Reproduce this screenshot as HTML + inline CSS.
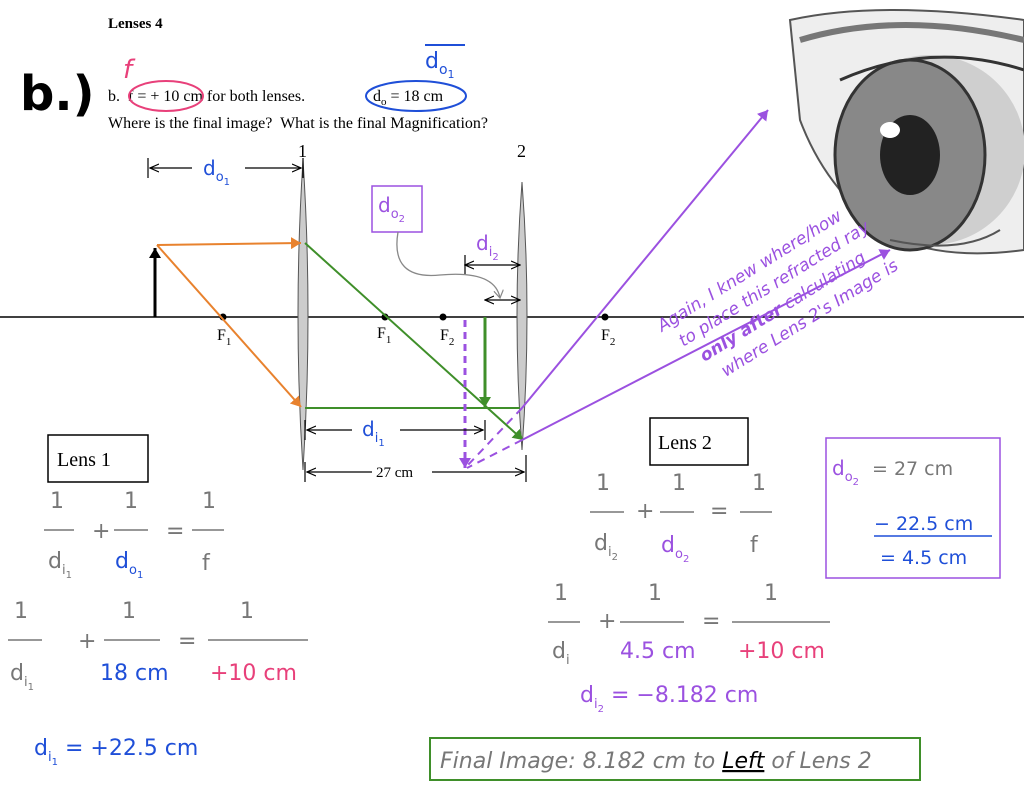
<!DOCTYPE html>
<html><head><meta charset="utf-8"><style>
html,body{margin:0;padding:0;background:#fff;}
svg{display:block}
.hw{font-family:"DejaVu Sans","Liberation Sans",sans-serif;}
.sr{font-family:"Liberation Serif",serif;}
</style></head><body>
<svg width="1024" height="791" viewBox="0 0 1024 791" xmlns="http://www.w3.org/2000/svg">
<defs>
<marker id="ab" markerWidth="10" markerHeight="10" refX="9" refY="5" orient="auto-start-reverse" markerUnits="userSpaceOnUse"><path d="M0,1 L9,5 L0,9" fill="none" stroke="#000" stroke-width="1.2"/></marker>
<marker id="ao" markerWidth="12" markerHeight="12" refX="10" refY="6" orient="auto" markerUnits="userSpaceOnUse"><path d="M0,0 L10,6 L0,12 z" fill="#e8822e"/></marker>
<marker id="ag" markerWidth="12" markerHeight="12" refX="10" refY="6" orient="auto" markerUnits="userSpaceOnUse"><path d="M0,0 L10,6 L0,12 z" fill="#3f8f2a"/></marker>
<marker id="ap" markerWidth="12" markerHeight="12" refX="10" refY="6" orient="auto" markerUnits="userSpaceOnUse"><path d="M0,0 L10,6 L0,12 z" fill="#9b51e0"/></marker>
<marker id="ak" markerWidth="12" markerHeight="12" refX="10" refY="6" orient="auto" markerUnits="userSpaceOnUse"><path d="M0,0 L10,6 L0,12 z" fill="#000"/></marker>
<marker id="agr" markerWidth="10" markerHeight="10" refX="8" refY="5" orient="auto" markerUnits="userSpaceOnUse"><path d="M0,0 L8,5 L0,10" fill="none" stroke="#888" stroke-width="1.2"/></marker>
</defs>

<!-- eye -->
<g>
<path d="M790,20 Q880,0 1024,20 L1024,250 Q950,260 900,240 Q830,200 800,120 Z" fill="#eee" stroke="#555" stroke-width="2"/>
<path d="M800,40 Q900,10 1024,40" fill="none" stroke="#777" stroke-width="6"/>
<ellipse cx="930" cy="150" rx="95" ry="95" fill="#cfcfcf"/>
<ellipse cx="910" cy="155" rx="75" ry="95" fill="#888" stroke="#333" stroke-width="3"/>
<ellipse cx="910" cy="155" rx="30" ry="40" fill="#222"/>
<ellipse cx="890" cy="130" rx="10" ry="8" fill="#fff"/>
<path d="M840,80 Q930,40 1024,70" fill="none" stroke="#333" stroke-width="3"/>
<path d="M890,240 Q960,255 1000,230" fill="none" stroke="#555" stroke-width="2"/>
</g>

<text x="108" y="28" class="sr" font-size="15" font-weight="bold">Lenses 4</text>
<text x="20" y="110" class="hw" font-size="48" font-weight="bold">b.)</text>
<text x="108" y="101" class="sr" font-size="16">b.&#160; f = + 10 cm for both lenses.</text>
<text x="373" y="101" class="sr" font-size="16">d<tspan font-size="11" dy="4">o</tspan><tspan dy="-4"> = 18 cm</tspan></text>
<ellipse cx="166" cy="96" rx="37" ry="15" fill="none" stroke="#e8407a" stroke-width="2"/>
<text x="123" y="78" class="hw" font-size="26" fill="#e8407a" font-style="italic">f</text>
<ellipse cx="416" cy="96" rx="50" ry="15" fill="none" stroke="#1f4fd8" stroke-width="2"/>
<text x="425" y="68" class="hw" font-size="22" fill="#1f4fd8">d<tspan font-size="14" dy="6">o</tspan><tspan font-size="11" dy="4">1</tspan></text>
<line x1="425" y1="45" x2="465" y2="45" stroke="#1f4fd8" stroke-width="2"/>
<text x="108" y="128" class="sr" font-size="16">Where is the final image?&#160; What is the final Magnification?</text>

<!-- axis -->
<line x1="0" y1="317" x2="1024" y2="317" stroke="#000" stroke-width="1.5"/>
<!-- lenses -->
<path d="M303,160 Q313,315 303,470 Q293,315 303,160Z" fill="#ccc" stroke="#555"/>
<path d="M522,182 Q532,315 522,450 Q512,315 522,182Z" fill="#ccc" stroke="#555"/>
<text x="298" y="157" class="sr" font-size="18">1</text>
<text x="517" y="157" class="sr" font-size="18">2</text>

<!-- object -->
<line x1="155" y1="317" x2="155" y2="248" stroke="#000" stroke-width="3" marker-end="url(#ak)"/>
<g fill="#000"><circle cx="223" cy="317" r="3.5"/><circle cx="385" cy="317" r="3.5"/><circle cx="443" cy="317" r="3.5"/><circle cx="605" cy="317" r="3.5"/></g>
<g class="sr" font-size="16">
<text x="217" y="340">F<tspan font-size="11" dy="5">1</tspan></text>
<text x="377" y="338">F<tspan font-size="11" dy="5">1</tspan></text>
<text x="440" y="340">F<tspan font-size="11" dy="5">2</tspan></text>
<text x="601" y="340">F<tspan font-size="11" dy="5">2</tspan></text>
</g>

<!-- rays -->
<line x1="157" y1="245" x2="301" y2="243" stroke="#e8822e" stroke-width="2" marker-end="url(#ao)"/>
<line x1="157" y1="245" x2="301" y2="407" stroke="#e8822e" stroke-width="2" marker-end="url(#ao)"/>
<line x1="305" y1="243" x2="523" y2="440" stroke="#3f8f2a" stroke-width="2" marker-end="url(#ag)"/>
<line x1="305" y1="408" x2="520" y2="408" stroke="#3f8f2a" stroke-width="2"/>
<line x1="485" y1="317" x2="485" y2="407" stroke="#3f8f2a" stroke-width="3" marker-end="url(#ag)"/>
<line x1="522" y1="408" x2="768" y2="110" stroke="#9b51e0" stroke-width="2" marker-end="url(#ap)"/>
<line x1="522" y1="440" x2="890" y2="250" stroke="#9b51e0" stroke-width="2" marker-end="url(#ap)"/>
<line x1="522" y1="408" x2="467" y2="466" stroke="#9b51e0" stroke-width="2" stroke-dasharray="8,6"/>
<line x1="522" y1="440" x2="467" y2="468" stroke="#9b51e0" stroke-width="2" stroke-dasharray="8,6"/>
<line x1="465" y1="320" x2="465" y2="468" stroke="#9b51e0" stroke-width="3" stroke-dasharray="7,5" marker-end="url(#ap)"/>

<!-- dimension lines -->
<g stroke="#000" stroke-width="1.2">
<line x1="148" y1="158" x2="148" y2="178"/><line x1="303" y1="158" x2="303" y2="178"/>
<line x1="192" y1="168" x2="150" y2="168" marker-end="url(#ab)"/><line x1="245" y1="168" x2="301" y2="168" marker-end="url(#ab)"/>
<line x1="305" y1="420" x2="305" y2="440"/><line x1="485" y1="420" x2="485" y2="440"/>
<line x1="352" y1="430" x2="307" y2="430" marker-end="url(#ab)"/><line x1="400" y1="430" x2="483" y2="430" marker-end="url(#ab)"/>
<line x1="305" y1="462" x2="305" y2="482"/><line x1="526" y1="455" x2="526" y2="482"/>
<line x1="372" y1="472" x2="307" y2="472" marker-end="url(#ab)"/>
<line x1="432" y1="472" x2="524" y2="472" marker-end="url(#ab)"/>
<line x1="465" y1="255" x2="465" y2="275"/>
<line x1="465" y1="265" x2="520" y2="265" marker-start="url(#ab)" marker-end="url(#ab)"/>
<line x1="485" y1="300" x2="520" y2="300" marker-start="url(#ab)" marker-end="url(#ab)"/>
</g>
<text x="203" y="175" class="hw" font-size="20" fill="#1f4fd8">d<tspan font-size="13" dy="6">o</tspan><tspan font-size="10" dy="4">1</tspan></text>
<text x="362" y="436" class="hw" font-size="20" fill="#1f4fd8">d<tspan font-size="13" dy="6">i</tspan><tspan font-size="10" dy="4">1</tspan></text>
<text x="376" y="477" class="sr" font-size="15">27 cm</text>
<text x="476" y="250" class="hw" font-size="20" fill="#9b51e0">d<tspan font-size="13" dy="6">i</tspan><tspan font-size="10" dy="4">2</tspan></text>

<rect x="372" y="186" width="50" height="46" fill="none" stroke="#9b51e0" stroke-width="1.5"/>
<text x="378" y="212" class="hw" font-size="20" fill="#9b51e0">d<tspan font-size="13" dy="6">o</tspan><tspan font-size="10" dy="4">2</tspan></text>
<path d="M398,232 Q390,280 440,275 Q495,270 500,298" fill="none" stroke="#888" stroke-width="1.3" marker-end="url(#agr)"/>

<g transform="translate(662,332) rotate(-32)" class="hw" fill="#9b51e0" font-size="17" font-style="italic">
<text x="0" y="0">Again, I knew where/how</text>
<text x="10" y="24">to place this refracted ray</text>
<text x="20" y="48"><tspan font-weight="bold">only after</tspan> calculating</text>
<text x="30" y="72">where Lens 2's Image is</text>
</g>

<rect x="48" y="435" width="100" height="47" fill="#fff" stroke="#000" stroke-width="1.5"/>
<text x="57" y="466" class="sr" font-size="20">Lens 1</text>
<g class="hw" font-size="22" fill="#777">
<text x="50" y="508">1</text><line x1="44" y1="530" x2="74" y2="530" stroke="#777" stroke-width="1.5"/>
<text x="48" y="568">d<tspan font-size="13" dy="6">i</tspan><tspan font-size="10" dy="4">1</tspan></text>
<text x="92" y="538">+</text>
<text x="124" y="508">1</text><line x1="114" y1="530" x2="148" y2="530" stroke="#777" stroke-width="1.5"/>
<text x="166" y="538">=</text>
<text x="202" y="508">1</text><line x1="192" y1="530" x2="224" y2="530" stroke="#777" stroke-width="1.5"/>
<text x="202" y="570">f</text>
<text x="14" y="618">1</text><line x1="8" y1="640" x2="42" y2="640" stroke="#777" stroke-width="1.5"/>
<text x="10" y="680">d<tspan font-size="13" dy="6">i</tspan><tspan font-size="10" dy="4">1</tspan></text>
<text x="78" y="648">+</text>
<text x="122" y="618">1</text><line x1="104" y1="640" x2="160" y2="640" stroke="#777" stroke-width="1.5"/>
<text x="178" y="648">=</text>
<text x="240" y="618">1</text><line x1="208" y1="640" x2="308" y2="640" stroke="#777" stroke-width="1.5"/>
</g>
<text x="115" y="568" class="hw" font-size="22" fill="#1f4fd8">d<tspan font-size="13" dy="6">o</tspan><tspan font-size="10" dy="4">1</tspan></text>
<text x="100" y="680" class="hw" font-size="22" fill="#1f4fd8">18 cm</text>
<text x="210" y="680" class="hw" font-size="22" fill="#e8407a">+10 cm</text>
<text x="34" y="755" class="hw" font-size="22" fill="#1f4fd8">d<tspan font-size="13" dy="6">i</tspan><tspan font-size="10" dy="4">1</tspan><tspan dy="-10"> = +22.5 cm</tspan></text>

<rect x="650" y="418" width="98" height="47" fill="#fff" stroke="#000" stroke-width="1.5"/>
<text x="658" y="449" class="sr" font-size="20">Lens 2</text>
<g class="hw" font-size="22" fill="#777">
<text x="596" y="490">1</text><line x1="590" y1="512" x2="624" y2="512" stroke="#777" stroke-width="1.5"/>
<text x="594" y="550">d<tspan font-size="13" dy="6">i</tspan><tspan font-size="10" dy="4">2</tspan></text>
<text x="636" y="518">+</text>
<text x="672" y="490">1</text><line x1="660" y1="512" x2="694" y2="512" stroke="#777" stroke-width="1.5"/>
<text x="710" y="518">=</text>
<text x="752" y="490">1</text><line x1="740" y1="512" x2="772" y2="512" stroke="#777" stroke-width="1.5"/>
<text x="750" y="552">f</text>
<text x="554" y="600">1</text><line x1="548" y1="622" x2="580" y2="622" stroke="#777" stroke-width="1.5"/>
<text x="552" y="658">d<tspan font-size="13" dy="6">i</tspan></text>
<text x="598" y="628">+</text>
<text x="648" y="600">1</text><line x1="620" y1="622" x2="684" y2="622" stroke="#777" stroke-width="1.5"/>
<text x="702" y="628">=</text>
<text x="764" y="600">1</text><line x1="732" y1="622" x2="830" y2="622" stroke="#777" stroke-width="1.5"/>
</g>
<text x="661" y="552" class="hw" font-size="22" fill="#9b51e0">d<tspan font-size="13" dy="6">o</tspan><tspan font-size="10" dy="4">2</tspan></text>
<text x="620" y="658" class="hw" font-size="22" fill="#9b51e0">4.5 cm</text>
<text x="738" y="658" class="hw" font-size="22" fill="#e8407a">+10 cm</text>
<text x="580" y="702" class="hw" font-size="22" fill="#9b51e0">d<tspan font-size="13" dy="6">i</tspan><tspan font-size="10" dy="4">2</tspan><tspan dy="-10"> = −8.182 cm</tspan></text>

<rect x="826" y="438" width="174" height="140" fill="none" stroke="#9b51e0" stroke-width="1.5"/>
<text x="832" y="475" class="hw" font-size="20" fill="#9b51e0">d<tspan font-size="13" dy="6">o</tspan><tspan font-size="10" dy="4">2</tspan></text>
<text x="872" y="475" class="hw" font-size="19" fill="#777">= 27 cm</text>
<text x="874" y="530" class="hw" font-size="19" fill="#1f4fd8">− 22.5 cm</text>
<line x1="874" y1="536" x2="992" y2="536" stroke="#1f4fd8" stroke-width="1.5"/>
<text x="880" y="564" class="hw" font-size="19" fill="#1f4fd8">= 4.5 cm</text>

<rect x="430" y="738" width="490" height="42" fill="none" stroke="#3f8f2a" stroke-width="2"/>
<text x="440" y="768" class="hw" font-size="22" fill="#777" font-style="italic">Final Image: 8.182 cm to <tspan fill="#000" text-decoration="underline">Left</tspan> of Lens 2</text>
</svg>
</body></html>
